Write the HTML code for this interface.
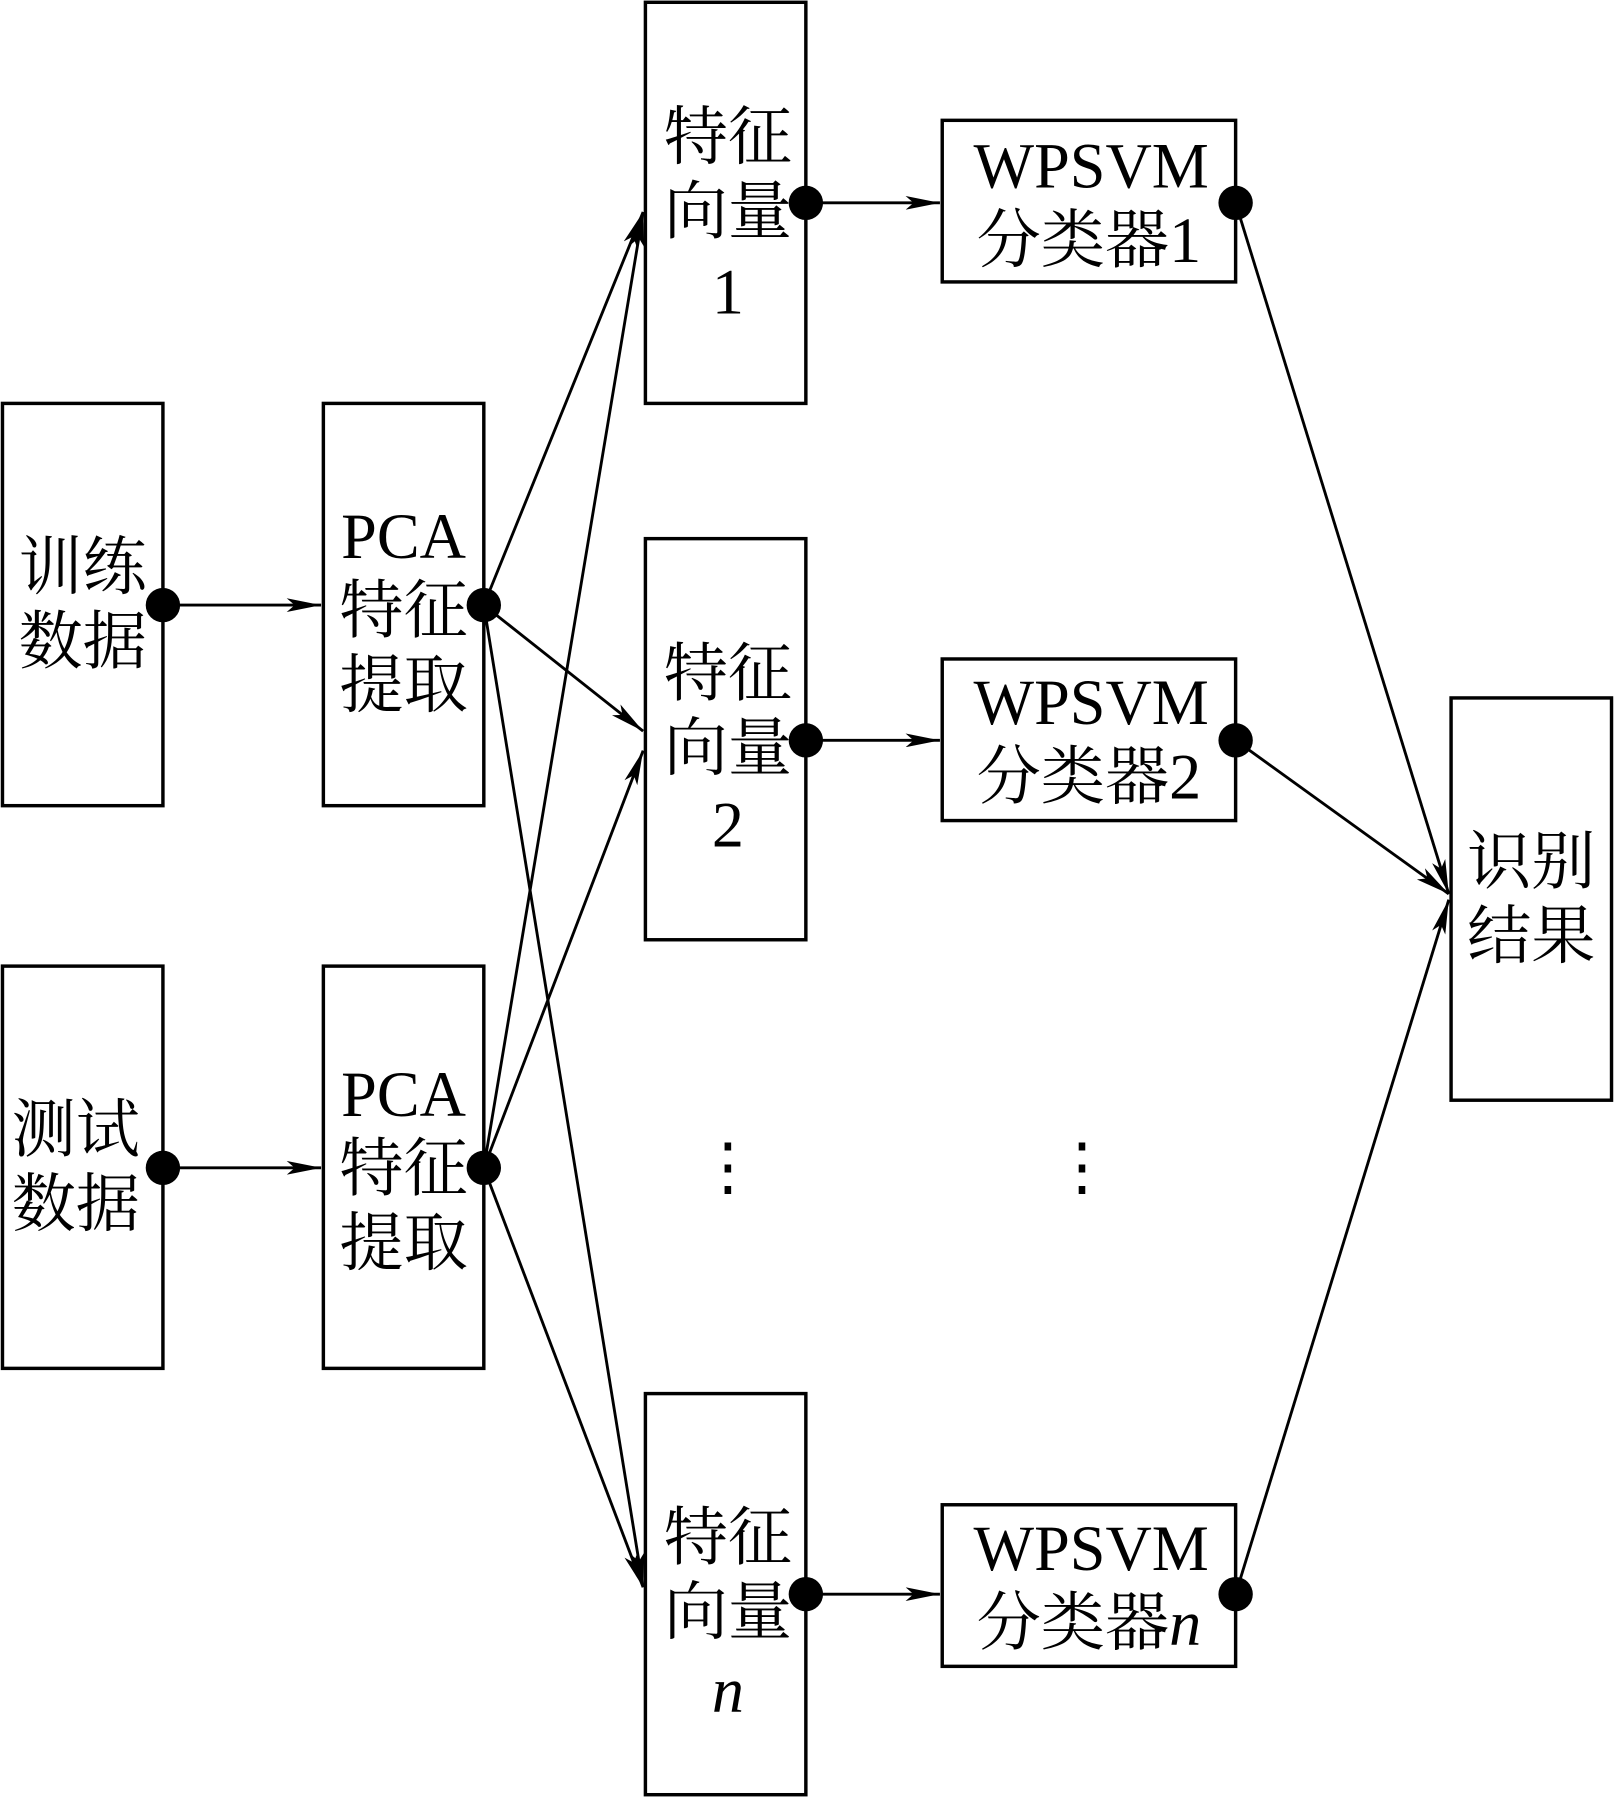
<!DOCTYPE html>
<html><head><meta charset="utf-8"><style>
html,body{margin:0;padding:0;background:#fff;}
svg{display:block}
text{font-family:"Liberation Serif","Noto Serif CJK SC",serif;font-size:56px;fill:#000;text-anchor:middle;dominant-baseline:central}
</style></head><body>
<svg width="1614" height="1797" viewBox="0 0 1408 1568" xmlns="http://www.w3.org/2000/svg">
<defs>
<marker id="a" viewBox="0 0 30 12" refX="30" refY="6" markerWidth="30" markerHeight="12" markerUnits="userSpaceOnUse" orient="auto">
<path d="M0,0 L30,6 L0,12 L7,6 Z" fill="#000"/>
</marker>
</defs>
<g fill="none" stroke="#000" stroke-width="3">
<rect x="2" y="352" width="140" height="351"/>
<rect x="2" y="843" width="140" height="351"/>
<rect x="282" y="352" width="140" height="351"/>
<rect x="282" y="843" width="140" height="351"/>
<rect x="563" y="2" width="140" height="350"/>
<rect x="563" y="470" width="140" height="350"/>
<rect x="563" y="1216" width="140" height="350"/>
<rect x="822" y="105" width="256" height="141"/>
<rect x="822" y="575" width="256" height="141"/>
<rect x="822" y="1313" width="256" height="141"/>
<rect x="1266" y="609" width="140" height="351"/>
</g>
<g stroke="#000" stroke-width="2.5" marker-end="url(#a)">
<line x1="142" y1="528" x2="280" y2="528"/>
<line x1="142" y1="1019" x2="280" y2="1019"/>
<line x1="422" y1="528" x2="561" y2="185"/>
<line x1="422" y1="528" x2="561" y2="638"/>
<line x1="422" y1="528" x2="561" y2="1385"/>
<line x1="422" y1="1019" x2="561" y2="185"/>
<line x1="422" y1="1019" x2="561" y2="655"/>
<line x1="422" y1="1019" x2="561" y2="1385"/>
<line x1="703" y1="177" x2="820" y2="177"/>
<line x1="703" y1="646" x2="820" y2="646"/>
<line x1="703" y1="1391" x2="820" y2="1391"/>
<line x1="1078" y1="177" x2="1264" y2="780"/>
<line x1="1078" y1="646" x2="1264" y2="780"/>
<line x1="1078" y1="1391" x2="1264" y2="785"/>
</g>
<g fill="#000">
<circle cx="142" cy="528" r="15"/><circle cx="142" cy="1019" r="15"/>
<circle cx="422" cy="528" r="15"/><circle cx="422" cy="1019" r="15"/>
<circle cx="703" cy="177" r="15"/><circle cx="703" cy="646" r="15"/><circle cx="703" cy="1391" r="15"/>
<circle cx="1078" cy="177" r="15"/><circle cx="1078" cy="646" r="15"/><circle cx="1078" cy="1391" r="15"/>
</g>
<text x="72" y="495">训练</text><text x="72" y="560">数据</text>
<text x="66" y="986">测试</text><text x="66" y="1051">数据</text>
<text x="352" y="468">PCA</text><text x="352" y="533">特征</text><text x="352" y="598">提取</text>
<text x="352" y="955">PCA</text><text x="352" y="1020">特征</text><text x="352" y="1085">提取</text>
<text x="635" y="120">特征</text><text x="635" y="185">向量</text><text x="635" y="255">1</text>
<text x="635" y="588">特征</text><text x="635" y="653">向量</text><text x="635" y="720">2</text>
<text x="635" y="1342">特征</text><text x="635" y="1407">向量</text><text x="635" y="1475" font-style="italic">n</text>
<text x="952" y="145">WPSVM</text><text x="950" y="210">分类器1</text>
<text x="952" y="613">WPSVM</text><text x="950" y="678">分类器2</text>
<text x="952" y="1351">WPSVM</text><text x="950" y="1416">分类器<tspan font-style="italic">n</tspan></text>
<text x="1336" y="752">识别</text><text x="1336" y="817">结果</text>
<text x="635" y="1018">⋮</text><text x="944" y="1018">⋮</text>
</svg>
</body></html>
